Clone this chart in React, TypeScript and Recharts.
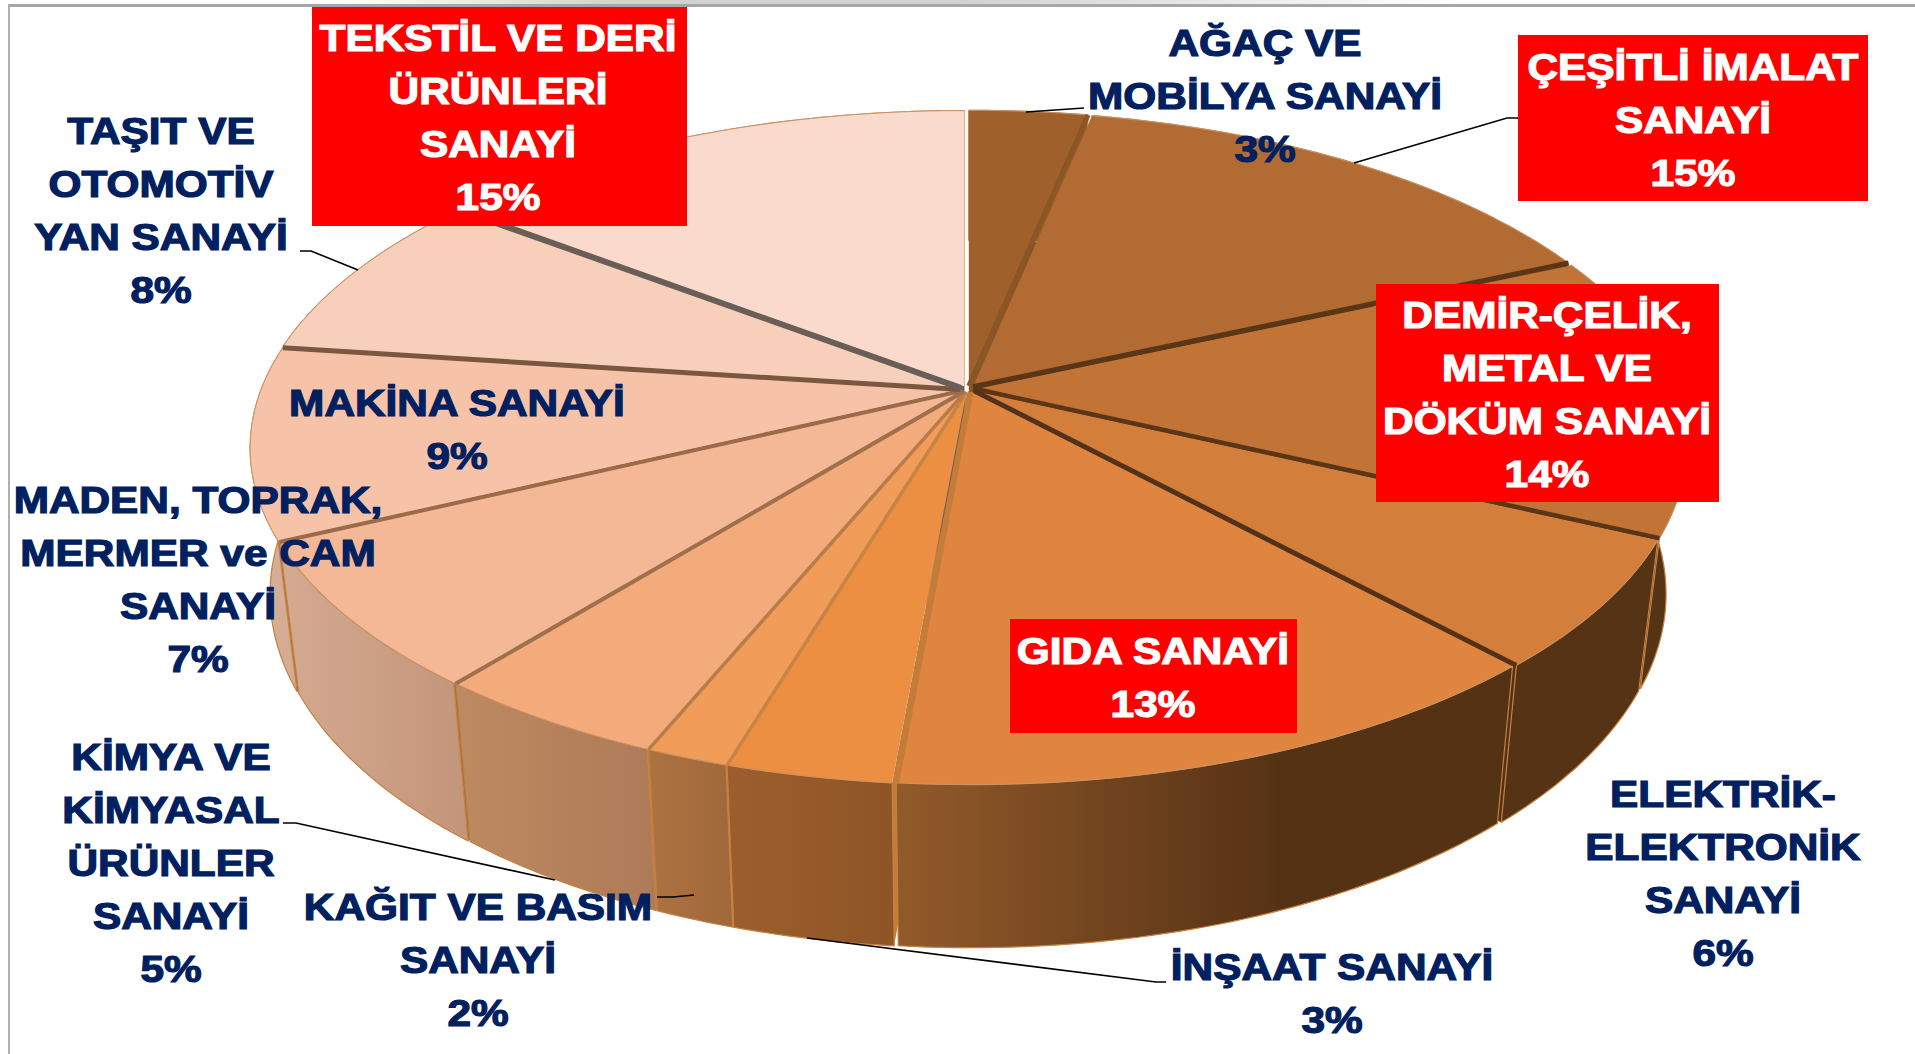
import React from "react";
import { PieChart, Pie } from "recharts";

const names = ["AĞAÇ VE MOBİLYA SANAYİ", "ÇEŞİTLİ İMALAT SANAYİ", "DEMİR-ÇELİK, METAL VE DÖKÜM SANAYİ", "ELEKTRİK-ELEKTRONİK SANAYİ", "GIDA SANAYİ", "İNŞAAT SANAYİ", "KAĞIT VE BASIM SANAYİ", "KİMYA VE KİMYASAL ÜRÜNLER SANAYİ", "MADEN, TOPRAK, MERMER ve CAM SANAYİ", "MAKİNA SANAYİ", "TAŞIT VE OTOMOTİV YAN SANAYİ", "TEKSTİL VE DERİ ÜRÜNLERİ SANAYİ"];
const shares = [3.2, 15.1, 13.7, 6.2, 13.2, 3.2, 1.6, 4.6, 7.1, 9.2, 8.3, 14.6];
const labelLines = [
  ["AĞAÇ VE", "MOBİLYA SANAYİ"],
  ["ÇEŞİTLİ İMALAT", "SANAYİ"],
  ["DEMİR-ÇELİK,", "METAL VE", "DÖKÜM SANAYİ"],
  ["ELEKTRİK-", "ELEKTRONİK", "SANAYİ"],
  ["GIDA SANAYİ"],
  ["İNŞAAT SANAYİ"],
  ["KAĞIT VE BASIM", "SANAYİ"],
  ["KİMYA VE", "KİMYASAL", "ÜRÜNLER", "SANAYİ"],
  ["MADEN, TOPRAK,", "MERMER ve CAM", "SANAYİ"],
  ["MAKİNA SANAYİ"],
  ["TAŞIT VE", "OTOMOTİV", "YAN SANAYİ"],
  ["TEKSTİL VE DERİ", "ÜRÜNLERİ", "SANAYİ"],
];

// styles and layout, kept apart from the values
const topColors = ["#A0602B", "#B26C33", "#C27336", "#D37F3B", "#E0853F", "#EC8F42", "#F19C58", "#F3AB7C", "#F5B896", "#F6C3A8", "#F8CFBA", "#F9DACC"];
const sideFrom = ["#A0602B", "#8A5226", "#553315", "#573316", "#925A2A", "#9C5E2C", "#AE7241", "#BD8A62", "#D4AA90", "#D8B09A", "#DDB9A4", "#E0C2B0"];
const sideTo = ["#9A5A28", "#7A4820", "#553315", "#553315", "#563215", "#8F5527", "#A0683A", "#AE7A58", "#C3957A", "#D4AA90", "#D8B09A", "#DDB9A4"];
const sideStop = [1, 1, 1, 1, 0.62, 1, 1, 1, 1, 1, 1, 1];
const edgeColors = ["#8A5626", "#5A3516", "#5A3516", "#54321A", "#C47C3A", "#C68445", "#B87C4A", "#A0704C", "#9A6A4A", "#7A5840", "#6A5F58", "#DDB08C"];
const edgeWidths = [5, 5, 4.5, 4.5, 6, 3.5, 3.5, 4, 4, 5, 6, 1];
const highlighted = [false, true, true, false, true, false, false, false, false, false, false, true];
const textCenters: [number, number][] = [[1265, 43], [1693, 67], [1547, 315], [1723, 794], [1153, 651], [1332, 967], [478, 907], [171, 757], [198, 500], [457, 403], [161, 131], [498, 38]];
const boxes: ([number, number, number, number] | null)[] = [null, [1518, 35, 350, 166], [1376, 284, 343, 218], null, [1010, 619, 287, 114], null, null, null, null, null, null, [312, 7, 375, 219]];
const leaders: string[] = [
  "1026,112 1084,108", "1354,163 1507,118 1518,118", "", "", "", "807,938 1156,982 1166,982",
  "657,897 673,897 694,895", "283,823 296,823 555,880", "", "", "358,270 311,251 300,251", "",
];

const tableData = names.map((name, i) => ({ name, value: shares[i] }));

const CX = 968, CY = 389, WIDE = 699, TALL = 324, PERSP = 0.175;
const BASE_X = 0.972, BASE_Y = 1.05, BASE_CY = 532.5;
const EXPLODE_X = 8, EXPLODE_Y = 3;

type Pt = [number, number];
const topPoint = (deg: number, cx: number, cy: number, r: number): Pt => {
  const t = ((90 - deg) * Math.PI) / 180;
  const u = Math.sin(t), v = -Math.cos(t);
  const k = 1 - PERSP * v;
  return [cx + (r * u) / k, cy + ((r * TALL) / WIDE) * v / k];
};
const lower = (p: Pt, cx: number, cy: number): Pt => [cx + BASE_X * (p[0] - cx), BASE_CY + BASE_Y * (p[1] - cy)];
const arc = (a0: number, a1: number, cx: number, cy: number, r: number): Pt[] => {
  const n = Math.max(2, Math.ceil(Math.abs(a1 - a0)));
  return Array.from({ length: n + 1 }, (_, i) => topPoint(a0 + ((a1 - a0) * i) / n, cx, cy, r));
};
const d = (pts: Pt[], close = true) => "M" + pts.map((p) => p[0].toFixed(1) + "," + p[1].toFixed(1)).join("L") + (close ? "Z" : "");
const shift = (props: any) => {
  const mid = (((props.startAngle + props.endAngle) / 2 - 90) * -1 * Math.PI) / 180;
  return `translate(${(EXPLODE_X * Math.sin(mid)).toFixed(2)},${(-EXPLODE_Y * Math.cos(mid)).toFixed(2)})`;
};

const WallShape = (props: any) => {
  const { cx, cy, outerRadius: r, startAngle, endAngle, index } = props;
  const a = topPoint(startAngle, cx, cy, r);
  const b = topPoint(endAngle, cx, cy, r);
  const apexB = lower([cx, cy], cx, cy);
  return (
    <g transform={shift(props)}>
      <path d={d([[cx, cy], a, lower(a, cx, cy), apexB])} fill={edgeColors[(index + 11) % 12]} />
      <path d={d([[cx, cy], b, lower(b, cx, cy), apexB])} fill={edgeColors[index]} />
    </g>
  );
};

const SideShape = (props: any) => {
  const { cx, cy, outerRadius: r, startAngle, endAngle, index } = props;
  const rim = arc(startAngle, endAngle, cx, cy, r);
  const base = rim.map((p) => lower(p, cx, cy));
  const id = "side" + index;
  return (
    <g transform={shift(props)}>
      <defs>
        <linearGradient id={id} x1="0" x2="1" y1="0" y2="0">
          <stop offset="0" stopColor={sideFrom[index]} />
          <stop offset={sideStop[index]} stopColor={sideTo[index]} />
        </linearGradient>
      </defs>
      <path d={d([...rim, ...base.slice().reverse()])} fill={`url(#${id})`} stroke="#C4803F" strokeWidth={1.2} />
    </g>
  );
};

const TopShape = (props: any) => {
  const { cx, cy, outerRadius: r, startAngle, endAngle, index } = props;
  const rim = arc(startAngle, endAngle, cx, cy, r);
  return (
    <g transform={shift(props)}>
      <path d={d([[cx, cy], ...rim])} fill={topColors[index]} />
      <path d={d(rim, false)} fill="none" stroke="#C99468" strokeWidth={1} />
    </g>
  );
};

const EdgeShape = (props: any) => {
  const { cx, cy, outerRadius: r, endAngle, index } = props;
  const p = topPoint(endAngle, cx, cy, r);
  return (
    <g transform={shift(props)}>
      <path d={d([[cx, cy], p], false)} fill="none" stroke={edgeColors[index]} strokeWidth={edgeWidths[index]} />
    </g>
  );
};

const LABEL_STEP = 53;
const TEXT_WIDEN = 1.145;
const renderLabel = (props: any) => {
  const { index, percent } = props;
  const [x, y] = textCenters[index];
  const box = boxes[index];
  const color = highlighted[index] ? "#FFFFFF" : "#002060";
  const lines = [...labelLines[index], `${Math.round(percent * 100)}%`];
  return (
    <g key={index}>
      {leaders[index] && <polyline points={leaders[index]} fill="none" stroke="#000" strokeWidth={1.6} />}
      {box && <rect x={box[0]} y={box[1]} width={box[2]} height={box[3]} fill="#FF0000" />}
      {lines.map((t, i) => (
        <text key={i} transform={`translate(${x},${y + i * LABEL_STEP}) scale(${TEXT_WIDEN},1)`} dy="0.36em" textAnchor="middle" fontFamily="'Liberation Sans', Arial, sans-serif" fontWeight={700} fontSize={37} fill={color} stroke={color} strokeWidth={1.2}>
          {t}
        </text>
      ))}
    </g>
  );
};

const pieProps = {
  data: tableData, dataKey: "value", nameKey: "name", cx: CX, cy: CY, outerRadius: WIDE, innerRadius: 0,
  startAngle: 90, endAngle: -270, paddingAngle: 0, stroke: "none", isAnimationActive: false, labelLine: false,
};

export default function App() {
  return (
    <div style={{ position: "absolute", left: 0, top: 0, width: 1915, height: 1054, background: "#fff", overflow: "hidden" }}>
      <div style={{ position: "absolute", left: 0, top: 0, right: 0, height: 4, background: "linear-gradient(to right, #FFFFFF 18%, #D2D2D2 32%, #D2D2D2 50%, #FFFFFF 76%)" }} />
      <div style={{ position: "absolute", left: 8, top: 4, right: 0, height: 3, background: "#A6A6A6" }} />
      <div style={{ position: "absolute", left: 8, top: 5, bottom: 0, width: 2, background: "#B0B0B0" }} />
      <div style={{ position: "absolute", left: 0, top: 0 }}>
        <PieChart width={1915} height={1054} margin={{ top: 0, right: 0, bottom: 0, left: 0 }}>
          <Pie {...pieProps} shape={WallShape} />
          <Pie {...pieProps} shape={SideShape} />
          <Pie {...pieProps} shape={TopShape} />
          <Pie {...pieProps} shape={EdgeShape} label={renderLabel} />
        </PieChart>
      </div>
    </div>
  );
}
